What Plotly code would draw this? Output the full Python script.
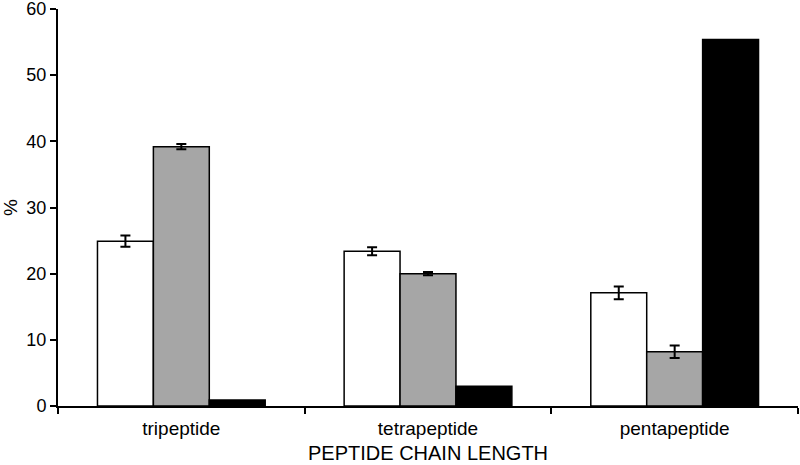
import plotly.graph_objects as go

categories = ["tripeptide", "tetrapeptide", "pentapeptide"]
white_vals = [24.9, 23.4, 17.1]
white_err = [0.85, 0.6, 0.95]
gray_vals = [39.2, 20.0, 8.2]
gray_err = [0.4, 0.25, 0.95]
black_vals = [0.9, 3.0, 55.4]

fig = go.Figure()
fig.add_trace(go.Bar(x=categories, y=white_vals, name="white",
                     marker=dict(color="white", line=dict(color="black", width=1.5)),
                     error_y=dict(type="data", array=white_err, color="black", thickness=2, width=5)))
fig.add_trace(go.Bar(x=categories, y=gray_vals, name="gray",
                     marker=dict(color="#a6a6a6", line=dict(color="black", width=1.5)),
                     error_y=dict(type="data", array=gray_err, color="black", thickness=2, width=5)))
fig.add_trace(go.Bar(x=categories, y=black_vals, name="black",
                     marker=dict(color="black", line=dict(color="black", width=1.5))))

font = "Liberation Sans, Arial, sans-serif"
fig.update_layout(
    width=800, height=465,
    margin=dict(l=58, r=2, t=9, b=59, autoexpand=False),
    paper_bgcolor="white", plot_bgcolor="white",
    barmode="group", bargap=0.32, bargroupgap=0,
    showlegend=False,
    font=dict(family=font, size=18, color="black"),
    xaxis=dict(type="category", tickson="boundaries", ticks="outside", ticklen=6,
               tickwidth=2, tickcolor="black", showline=True, linecolor="black",
               linewidth=2, showgrid=False, automargin=False,
               ticklabelstandoff=4, ticklabeloverflow="allow",
               tickfont=dict(size=19)),
    yaxis=dict(range=[0, 60], dtick=10, ticks="outside", ticklen=6, tickwidth=2,
               tickcolor="black", showline=True, linecolor="black", linewidth=2,
               showgrid=False, zeroline=False, automargin=False,
               ticklabeloverflow="allow",
               title=dict(text="%", standoff=16, font=dict(size=19)),
               tickfont=dict(size=18)),
    annotations=[dict(text="PEPTIDE CHAIN LENGTH", xref="paper", yref="paper",
                      x=0.5, y=-0.119, xanchor="center", yanchor="middle",
                      showarrow=False, borderpad=0, font=dict(size=20))],
)
fig.write_html("out.html", config={"displayModeBar": False},
               post_script="document.body.style.margin='0px';")
